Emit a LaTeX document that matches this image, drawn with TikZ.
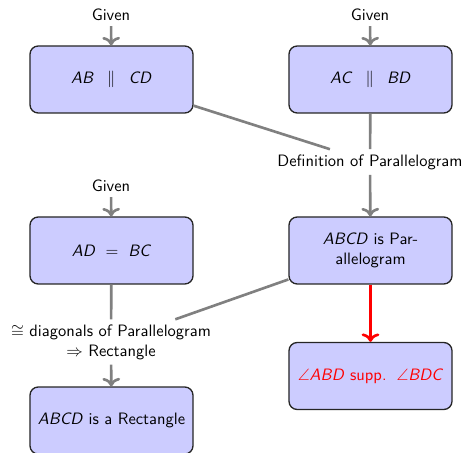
\documentclass[tikz,border=0pt]{standalone}
\usepackage{amsmath,amssymb}
\usetikzlibrary{arrows.meta}
\newcommand{\pt}[1]{\textit{#1}}
\begin{document}
\begin{tikzpicture}[x=0.606pt,y=-0.606pt,
  font=\sffamily,
  stmt/.style={draw=black!85, fill=blue!20, rounded corners=5pt, thick,
    minimum width=98.8pt, minimum height=40.6pt, align=center, inner sep=2pt},
  reason/.style={align=center, inner sep=3pt},
  link/.style={draw=gray, line width=1.6pt},
  flow/.style={link, ->},
  key/.style={draw=red, line width=1.6pt, ->}]
  \useasboundingbox (0,0) rectangle (466,453);

  % statements
  \node[stmt] (ab)   at (111.5,79.5)  {\pt{AB}\hspace{8pt}$\parallel$\hspace{8pt}\pt{CD}};
  \node[stmt] (ac)   at (370.5,79.5)  {\pt{AC}\hspace{8pt}$\parallel$\hspace{8pt}\pt{BD}};
  \node[stmt] (ad)   at (111.5,250.5) {\pt{AD}\hspace{6pt}$=$\hspace{6pt}\pt{BC}};
  \node[stmt] (par)  at (370.5,250.5) {\pt{ABCD} is Par-\\allelogram};
  \node[stmt] (rect) at (111.5,420.5) {\pt{ABCD} is a Rectangle};
  \node[stmt, text=red] (ang) at (370.5,376) {$\angle$\pt{ABD} supp.\hspace{6pt}$\angle$\pt{BDC}};

  % reasons
  \node[reason] (g1)  at (111,15)  {Given};
  \node[reason] (g2)  at (370,15)  {Given};
  \node[reason] (g3)  at (111,186) {Given};
  \node[reason] (def) at (370,162) {Definition of Parallelogram};
  \node[reason] (dia) at (111,342) {$\cong$ diagonals of Parallelogram\\$\Rightarrow$ Rectangle};

  % connectors
  \draw[flow] (g1) -- (ab);
  \draw[flow] (g2) -- (ac);
  \draw[flow] (g3) -- (ad);
  \draw[link] (ab) -- (def);
  \draw[link] (ac) -- (def);
  \draw[flow] (def) -- (par);
  \draw[link] (ad) -- (dia);
  \draw[link] (par) -- (dia);
  \draw[flow] (dia) -- (rect);
  \draw[key] (par) -- (ang);
\end{tikzpicture}
\end{document}
